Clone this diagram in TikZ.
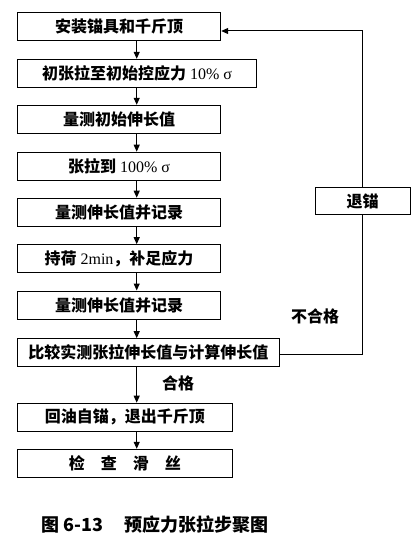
\documentclass[tikz,border=0pt]{standalone}
\usepackage{fontspec}
\setmainfont{Noto Sans CJK SC}
\newfontfamily\lat{Liberation Serif}
\usetikzlibrary{arrows.meta,positioning}
\tikzset{
  box/.style={draw,line width=1pt,minimum height=28pt,inner sep=0pt,font=\fontsize{16}{18}\selectfont\bfseries},
  arr/.style={line width=1pt,-{Triangle[length=7pt,width=6pt]}},
  lnk/.style={line width=1pt},
  lab/.style={font=\fontsize{16}{18}\selectfont\bfseries},
}
\begin{document}
\begin{tikzpicture}[x=1pt,y=-1pt]
\useasboundingbox (0,0) rectangle (417,540);
\node[box,minimum width=203.4pt] (b1) at (119,26.5) {安装锚具和千斤顶};
\node[box,minimum width=239.4pt] (b2) at (137,73.3) {初张拉至初始控应力{\lat\mdseries\ 10\% σ}};
\node[box,minimum width=203.4pt] (b3) at (119,119.3) {量测初始伸长值};
\node[box,minimum width=203.4pt] (b4) at (119,166.2) {张拉到{\lat\mdseries\ 100\% σ}};
\node[box,minimum width=203.4pt] (b5) at (119,212.2) {量测伸长值并记录};
\node[box,minimum width=203.4pt] (b6) at (119,258.7) {持荷{\lat\mdseries\ 2min}，补足应力};
\node[box,minimum width=203.4pt] (b7) at (119,305) {量测伸长值并记录};
\node[box,minimum width=262pt] (b8) at (148.3,352.7) {比较实测张拉伸长值与计算伸长值};
\node[box,minimum width=215pt] (b9) at (124.8,417.2) {回油自锚，退出千斤顶};
\node[box,minimum width=215pt] (b10) at (124.8,463.3) {检\hspace{1em}查\hspace{1em}滑\hspace{1em}丝};
\node[box,minimum width=95pt,minimum height=27.5pt] (s) at (362.7,201.2) {退锚};
\coordinate (ax) at (136.7,0);
\foreach \a/\b in {b1/b2,b2/b3,b3/b4,b4/b5,b5/b6,b6/b7,b7/b8,b8/b9,b9/b10}{
  \draw[arr] (\a.south -| ax) -- (\b.north -| ax);
}
\draw[lnk] ([yshift=-2pt]b8.east) -| (s.south);
\draw[arr] (s.north) |- ([yshift=-4.5pt]b1.east);
\node[lab] (ng) at (315,316.7) {不合格};
\node[lab] (ok) at (178,383.3) {合格};
\node[font=\fontsize{18}{20}\selectfont\bfseries] (cap) at (155,525) {图 6-13\hspace{1.2em}预应力张拉步聚图};
\end{tikzpicture}
\end{document}
